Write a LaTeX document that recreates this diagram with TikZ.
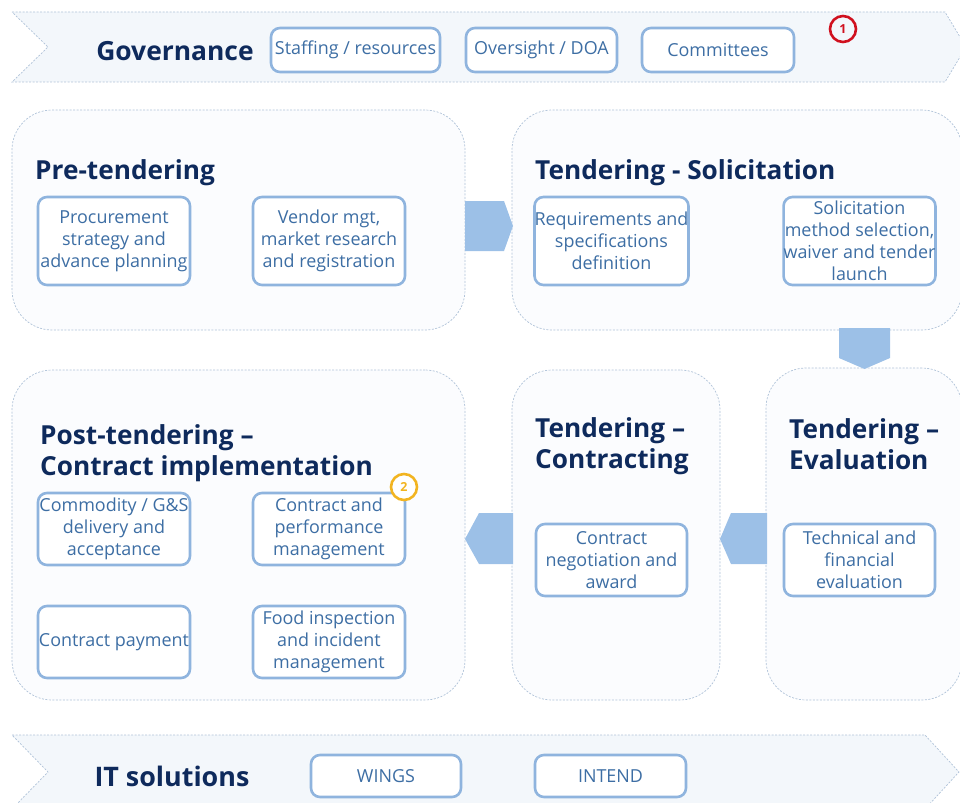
\documentclass[tikz,border=0pt]{standalone}
\usepackage{fontspec}
\setmainfont{Open Sans}
\usepackage{xcolor}
\definecolor{titlenavy}{HTML}{0E2A5C}
\definecolor{tasktext}{HTML}{3D6EA4}
\definecolor{taskline}{HTML}{8FB4DE}
\definecolor{panelline}{HTML}{AFC2D8}
\definecolor{panelfill}{HTML}{FBFCFE}
\definecolor{bannerfill}{HTML}{F3F7FB}
\definecolor{flowblue}{HTML}{9CC0E7}
\definecolor{badgered}{HTML}{D0101E}
\definecolor{badgeamber}{HTML}{F2B420}

\begin{document}
\begin{tikzpicture}[x=1bp,y=-1bp,
  banner/.style={draw=panelline,dash pattern=on 2bp off 1.5bp,line width=0.7bp,fill=bannerfill},
  panel/.style={draw=panelline,dash pattern=on 2bp off 1.5bp,line width=0.7bp,fill=panelfill,rounded corners=40bp,inner sep=0pt},
  task/.style={draw=taskline,line width=2.6bp,fill=white,rounded corners=9bp,align=center,inner sep=0pt,text=tasktext,font=\fontsize{18}{22}\selectfont},
  phase/.style={anchor=west,align=left,inner sep=0pt,text=titlenavy,font=\fontsize{26.3}{30.5}\selectfont\bfseries},
  flow/.style={fill=flowblue},
  badge/.style={circle,draw,line width=2.6bp,minimum size=26bp,inner sep=0pt,font=\fontsize{12.5}{12.5}\selectfont\bfseries}]
%\draw[step=100,gray,very thin] (0,0) grid (960,803); %background grid
\useasboundingbox (0,0) rectangle (960,803);
\clip (0,0) rectangle (960,803);

% governance banner
\draw[banner] (12,12)--(945,12)--(966,47)--(945,82)--(12,82)--(48,47)--cycle;
\node[inner sep=0pt,text=titlenavy,font=\fontsize{26.5}{30}\selectfont\bfseries] (gov) at (175,51) {Governance};
\node[task,minimum width=169bp,minimum height=44bp] (staff) at (355.5,50) {Staffing / resources};
\node[task,minimum width=151bp,minimum height=44bp] (oversight) at (541.5,50) {Oversight / DOA};
\node[task,minimum width=152bp,minimum height=44bp] (committees) at (718,50) {Committees};
\node[badge,draw=badgered,text=badgered] (one) at (843,29) {1};

% phase panels
\node[panel,minimum width=453bp,minimum height=220bp] (pre) at (238.5,220) {};
\node[panel,minimum width=450bp,minimum height=220bp] (sol) at (737,220) {};
\node[panel,minimum width=453bp,minimum height=330bp] (post) at (238.5,535) {};
\node[panel,minimum width=208bp,minimum height=330bp] (contr) at (616,535) {};
\node[panel,minimum width=196bp,minimum height=332bp] (eval) at (864,534) {};

\node[phase] (pretitle) at (35,173) {Pre-tendering};
\node[phase] (soltitle) at (535,173) {Tendering - Solicitation};
\node[phase] (posttitle) at (40,453) {Post-tendering --\\Contract implementation};
\node[phase] (contrtitle) at (535,446) {Tendering --\\Contracting};
\node[phase] (evaltitle) at (789,444) {Tendering --\\Evaluation};

% flow arrows
\fill[flow] (465,201)--(504,201)--(513,226)--(504,251)--(465,251)--cycle;
\fill[flow] (839,328)--(890,328)--(890,358)--(864.5,369)--(839,358)--cycle;
\fill[flow] (731,513)--(767,513)--(767,564)--(731,564)--(720,539)--cycle;
\fill[flow] (479,513)--(513,513)--(513,564)--(479,564)--(465,539)--cycle;

% tasks
\node[task,minimum width=152bp,minimum height=88bp] (strategy) at (114,241) {Procurement\\strategy and\\advance planning};
\node[task,minimum width=152bp,minimum height=88bp] (vendor) at (329,241) {Vendor mgt,\\market research\\and registration};
\node[task,minimum width=151bp,minimum height=88bp] (reqs) at (611.5,241) {Requirements and\\specifications\\definition};
\node[task,minimum width=151bp,minimum height=88bp] (method) at (859.5,241) {Solicitation\\method selection,\\waiver and tender\\launch};
\node[task,minimum width=152bp,minimum height=72bp] (delivery) at (114,529) {Commodity / G\&S\\delivery and\\acceptance};
\node[task,minimum width=152bp,minimum height=72bp] (perform) at (329,529) {Contract and\\performance\\management};
\node[task,minimum width=152bp,minimum height=72bp] (payment) at (114,642) {Contract payment};
\node[task,minimum width=152bp,minimum height=72bp] (food) at (329,642) {Food inspection\\and incident\\management};
\node[task,minimum width=151bp,minimum height=72bp] (award) at (611.5,560) {Contract\\negotiation and\\award};
\node[task,minimum width=151bp,minimum height=72bp] (techfin) at (859.5,560) {Technical and\\financial\\evaluation};
\node[badge,draw=badgeamber,text=badgeamber,fill=white] (two) at (404,487) {2};

% IT banner
\draw[banner] (12,735)--(925,735)--(959,772)--(925,809)--(12,809)--(48,772)--cycle;
\node[inner sep=0pt,text=titlenavy,font=\fontsize{27}{30}\selectfont\bfseries] (it) at (172,776) {IT solutions};
\node[task,minimum width=150bp,minimum height=42bp] (wings) at (386,776) {WINGS};
\node[task,minimum width=151bp,minimum height=42bp] (intend) at (610.5,776) {INTEND};

\end{tikzpicture}
\end{document}
